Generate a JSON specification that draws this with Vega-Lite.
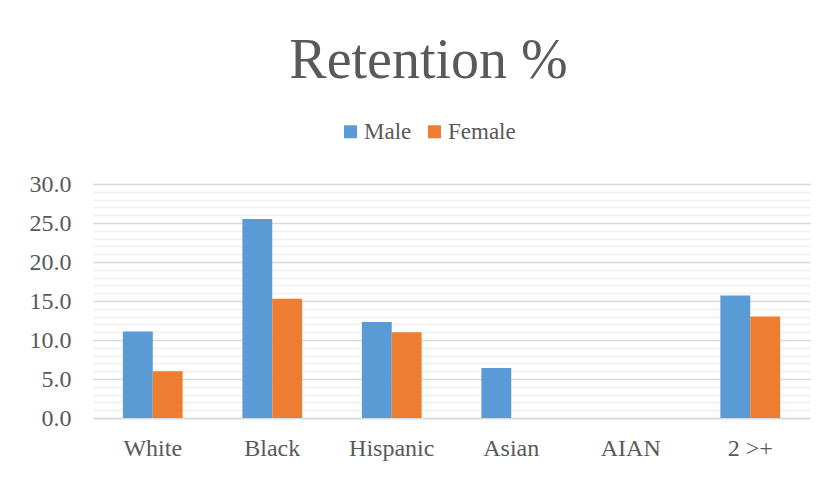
{
  "$schema": "https://vega.github.io/schema/vega-lite/v6.json",
  "width": 717,
  "height": 234,
  "autosize": {"type": "none"},
  "padding": {"left": 93, "top": 184, "right": 28, "bottom": 59},
  "background": "white",
  "config": {
    "view": {"stroke": null},
    "font": "Liberation Serif"
  },
  "title": {
    "text": "Retention %",
    "font": "Liberation Serif",
    "fontSize": 56,
    "fontWeight": "normal",
    "color": "#595959",
    "anchor": "middle",
    "dx": -23,
    "baseline": "alphabetic",
    "offset": -14
  },
  "data": {
    "values": [
      {"race": "White", "sex": "Male", "pct": 11.1},
      {"race": "White", "sex": "Female", "pct": 6.0},
      {"race": "Black", "sex": "Male", "pct": 25.5},
      {"race": "Black", "sex": "Female", "pct": 15.3},
      {"race": "Hispanic", "sex": "Male", "pct": 12.3},
      {"race": "Hispanic", "sex": "Female", "pct": 11.0},
      {"race": "Asian", "sex": "Male", "pct": 6.4},
      {"race": "Asian", "sex": "Female", "pct": 0},
      {"race": "AIAN", "sex": "Male", "pct": 0},
      {"race": "AIAN", "sex": "Female", "pct": 0},
      {"race": "2 >+", "sex": "Male", "pct": 15.7},
      {"race": "2 >+", "sex": "Female", "pct": 13.0}
    ]
  },
  "mark": {"type": "bar"},
  "encoding": {
    "x": {
      "field": "race",
      "type": "nominal",
      "sort": ["White", "Black", "Hispanic", "Asian", "AIAN", "2 >+"],
      "scale": {"paddingInner": 0.5, "paddingOuter": 0.25},
      "axis": {
        "title": null,
        "labelAngle": 0,
        "labelFont": "Liberation Serif",
        "labelFontSize": 24,
        "labelColor": "#595959",
        "labelPadding": 18,
        "ticks": false,
        "domain": true,
        "domainColor": "#D9D9D9",
        "domainWidth": 1.5,
        "grid": false
      }
    },
    "xOffset": {"field": "sex", "type": "nominal", "sort": ["Male", "Female"]},
    "y": {
      "field": "pct",
      "type": "quantitative",
      "scale": {"domain": [0, 30], "nice": false},
      "axis": {
        "title": null,
        "values": [0,1,2,3,4,5,6,7,8,9,10,11,12,13,14,15,16,17,18,19,20,21,22,23,24,25,26,27,28,29,30],
        "labelExpr": "datum.value % 5 === 0 ? format(datum.value, '.1f') : ''",
        "labelOverlap": false,
        "labelFont": "Liberation Serif",
        "labelFontSize": 24,
        "labelColor": "#595959",
        "labelPadding": 22,
        "ticks": false,
        "domain": false,
        "grid": true,
        "gridWidth": 1.5,
        "gridColor": {"condition": {"test": "datum.value % 5 === 0", "value": "#D9D9D9"}, "value": "#F0F0F0"}
      }
    },
    "color": {
      "field": "sex",
      "type": "nominal",
      "scale": {"domain": ["Male", "Female"], "range": ["#5B9BD5", "#ED7D31"]},
      "legend": {
        "title": null,
        "orient": "none",
        "direction": "horizontal",
        "legendX": 246,
        "legendY": -64,
        "symbolType": "square",
        "symbolSize": 169,
        "symbolStrokeWidth": 0,
        "symbolOpacity": 1,
        "labelFont": "Liberation Serif",
        "labelFontSize": 23,
        "labelColor": "#595959",
        "labelOffset": 2,
        "columnPadding": 11,
        "padding": 0
      }
    }
  }
}
